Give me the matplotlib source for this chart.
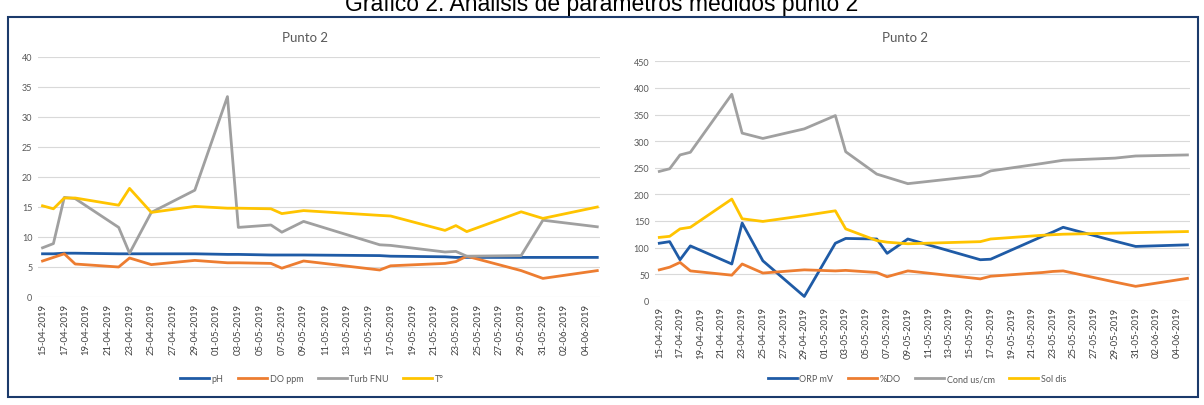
import pandas as pd
import matplotlib
matplotlib.use("Agg")
import matplotlib.pyplot as plt
import matplotlib.dates as mdates
from matplotlib.patches import Rectangle

# fechas de muestreo (punto 2)
fechas = ['15-04-2019', '16-04-2019', '17-04-2019', '18-04-2019', '22-04-2019',
          '23-04-2019', '25-04-2019', '29-04-2019', '02-05-2019', '03-05-2019',
          '06-05-2019', '07-05-2019', '09-05-2019', '16-05-2019', '17-05-2019',
          '22-05-2019', '23-05-2019', '24-05-2019', '29-05-2019', '31-05-2019',
          '05-06-2019']

# grafico izquierdo
ph = [7.2, 7.2, 7.3, 7.3, 7.2, 7.2, 7.2, 7.2, 7.1, 7.1, 7.0, 7.0, 7.0, 6.9, 6.8,
      6.7, 6.6, 6.6, 6.6, 6.6, 6.6]
do_ppm = [6.0, 6.6, 7.2, 5.5, 5.0, 6.5, 5.4, 6.1, 5.7, 5.7, 5.6, 4.8, 6.0, 4.5, 5.2,
          5.6, 5.9, 6.8, 4.4, 3.1, 4.4]
turb = [8.2, 8.9, 16.6, 16.4, 11.6, 7.3, 14.1, 17.8, 33.4, 11.6, 12.0, 10.8, 12.6,
        8.7, 8.6, 7.5, 7.6, 6.8, 6.9, 12.8, 11.7]
temp = [15.2, 14.7, 16.5, 16.5, 15.3, 18.1, 14.1, 15.1, 14.8, 14.8, 14.7, 13.9, 14.4,
        13.6, 13.5, 11.1, 11.9, 10.9, 14.2, 13.1, 15.0]

# grafico derecho
orp = [108, 111, 77, 103, 69, 146, 75, 8, 108, 117, 116, 89, 116, 77, 78, 121, 129,
       138, 112, 102, 105]
pdo = [58, 63, 72, 56, 48, 69, 52, 58, 56, 57, 53, 45, 56, 41, 46, 53, 55, 56, 35,
       27, 42]
cond = [243, 248, 274, 279, 388, 315, 305, 323, 348, 280, 238, 232, 220, 235, 244,
        258, 261, 264, 268, 272, 274]
sol_dis = [119, 121, 135, 138, 191, 154, 149, 160, 169, 135, 113, 110, 107, 111, 116,
           123, 124, 125, 127, 128, 130]

colores = ['#1F5BA6', '#ED7D31', '#A0A0A0', '#FFC400']
gris_txt = '#595959'

x = pd.to_datetime(fechas, format='%d-%m-%Y')
W, H = 1204, 406

fig = plt.figure(figsize=(W / 100, H / 100), dpi=100)
plt.rcParams['font.family'] = ['Lato', 'DejaVu Sans']


def make_axes(px_left, px_right, px_bottom, px_top):
    return fig.add_axes([px_left / W, 1 - px_bottom / H,
                         (px_right - px_left) / W, (px_bottom - px_top) / H])


def style(ax, ymax, ystep):
    ax.set_ylim(0, ymax)
    ax.set_yticks(range(0, ymax + 1, ystep))
    ax.set_xlim(x[0] - pd.Timedelta(hours=10), x[-1] + pd.Timedelta(hours=6))
    ticks = pd.date_range(x[0], pd.Timestamp('2019-06-04'), freq='2D')
    ax.set_xticks(ticks)
    ax.xaxis.set_major_formatter(mdates.DateFormatter('%d-%m-%Y'))
    for s in ax.spines.values():
        s.set_visible(False)
    ax.grid(axis='y', color='#D9D9D9', lw=0.8)
    ax.set_axisbelow(True)
    ax.tick_params(length=0, labelsize=6.5, labelcolor=gris_txt)
    ax.tick_params(axis='x', rotation=90, pad=4, labelsize=6.8, labelcolor='#404040')
    ax.tick_params(axis='y', pad=4)


# panel izquierdo
ax1 = make_axes(38, 600, 298, 58)
for serie, c, nombre in zip([ph, do_ppm, turb, temp], colores,
                            ['pH', 'DO ppm', 'Turb FNU', 'T°']):
    ax1.plot(x, serie, color=c, lw=2, label=nombre)
style(ax1, 40, 5)

# panel derecho
ax2 = make_axes(655, 1190, 301.7, 62.3)
for serie, c, nombre in zip([orp, pdo, cond, sol_dis], colores,
                            ['ORP mV', '%DO', 'Cond us/cm', 'Sol dis']):
    ax2.plot(x, serie, color=c, lw=2, label=nombre)
style(ax2, 450, 50)

fig.text(305 / W, 1 - 38 / H, 'Punto 2', ha='center', va='center',
         fontsize=9.5, color=gris_txt)
fig.text(905 / W, 1 - 38 / H, 'Punto 2', ha='center', va='center',
         fontsize=9.5, color=gris_txt)

for ax, cx in [(ax1, 312), (ax2, 917)]:
    h, l = ax.get_legend_handles_labels()
    fig.legend(h, l, loc='center', bbox_to_anchor=(cx / W, 1 - 380 / H), ncol=4,
               frameon=False, fontsize=6.5, handlelength=3.2, handletextpad=0.3,
               columnspacing=1.6, labelcolor=gris_txt)

# marco y titulo general (recortado arriba como en el original)
fig.patches.append(Rectangle((8 / W, 1 - 398 / H), 1190 / W, 380 / H,
                             transform=fig.transFigure, fill=False,
                             edgecolor='#1B3A6B', lw=1.5))
fig.text(0.5, 1 - 11 / H, 'Gráfico 2. Análisis de parámetros medidos punto 2',
         ha='center', va='baseline', fontsize=16.5, family='Liberation Sans')

fig.savefig('out.png', dpi=100)
